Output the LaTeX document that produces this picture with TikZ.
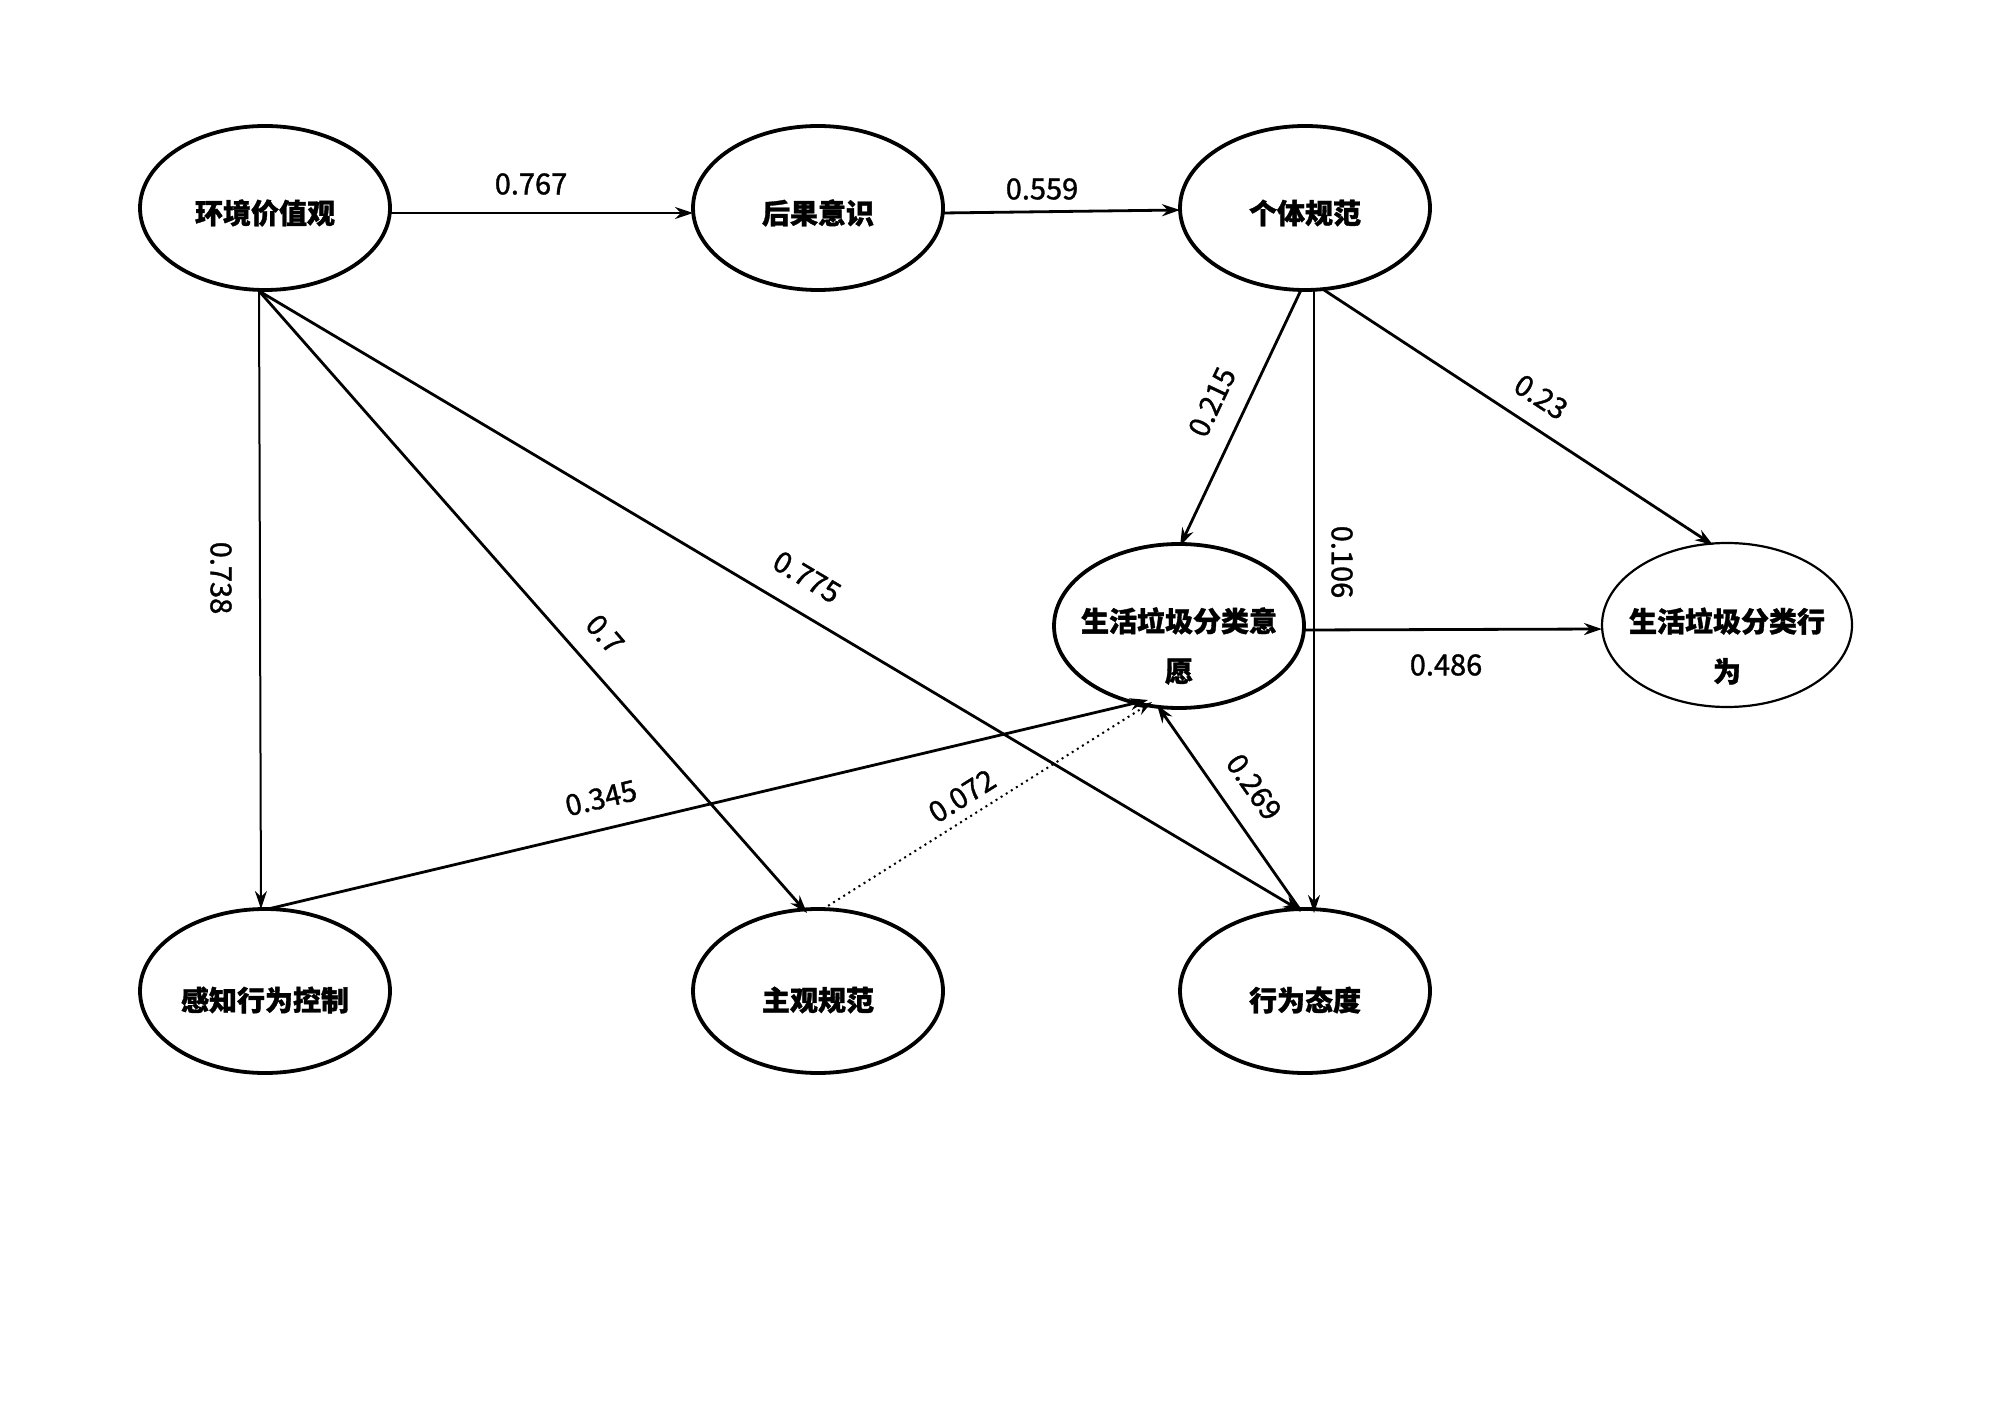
\documentclass[tikz,border=0pt]{standalone}
\usepackage{fontspec}
\setmainfont{Noto Sans CJK SC}[FakeBold=1.2]
\usetikzlibrary{arrows.meta,shapes.geometric}
\begin{document}
\begin{tikzpicture}[x=0.5pt,y=-0.5pt,
  lat/.style={draw,ellipse,line width=1.9pt,minimum width=125pt,minimum height=82pt,inner sep=0pt},
  latthin/.style={lat,line width=1.1pt},
  lbl/.style={font=\fontsize{14}{25}\selectfont,align=center,inner sep=0pt},
  num/.style={font=\fontsize{14.5}{16}\selectfont,inner sep=1pt},
  arr/.style={line width=1.4pt,-{Stealth[length=9pt,width=6pt]}},
  arrthin/.style={line width=1pt,-{Stealth[length=9pt,width=6pt]}},
  dotarr/.style={line width=1pt,dotted,-{Stealth[length=8pt,width=5pt]}}]
\useasboundingbox (0,0) rectangle (2000,1416);
\fill[white] (0,0) rectangle (2000,1416);
% ellipses
\node[lat] (A) at (265,208) {};
\node[lat] (B) at (818,208) {};
\node[lat] (C) at (1305,208) {};
\node[lat] (D) at (1179,626) {};
\node[latthin] (E) at (1727,625) {};
\node[lat] (F) at (265,991) {};
\node[lat] (G) at (818,991) {};
\node[lat] (H) at (1305,991) {};
% texts
\node[lbl] (tA) at (265,213) {\bfseries 环境价值观};
\node[lbl] (tB) at (818,213) {\bfseries 后果意识};
\node[lbl] (tC) at (1305,213) {\bfseries 个体规范};
\node[lbl] (tD) at (1179,646) {\bfseries 生活垃圾分类意\\\bfseries 愿};
\node[lbl] (tE) at (1727,646) {\bfseries 生活垃圾分类行\\\bfseries 为};
\node[lbl] (tF) at (265,1000) {\bfseries 感知行为控制};
\node[lbl] (tG) at (818,1000) {\bfseries 主观规范};
\node[lbl] (tH) at (1305,1000) {\bfseries 行为态度};
% connectors
\draw[arr] ([shift={(125,5)}]A.center) -- ([shift={(-125,5)}]B.center);
\draw[arr] ([shift={(125,5)}]B.center) -- ([shift={(-125,2)}]C.center);
\draw[arrthin] ([shift={(-6,83)}]A.center) -- ([shift={(-4,-82)}]F.center);
\draw[arr] ([shift={(-6,83)}]A.center) -- ([shift={(-11,-78)}]G.center);
\draw[arr] ([shift={(-6,83)}]A.center) -- ([shift={(-4,-80)}]H.center);
\draw[arr] ([shift={(3,-82)}]F.center) -- ([shift={(-31,74)}]D.center);
\draw[dotarr] ([shift={(5,-82)}]G.center) -- ([shift={(-27,76)}]D.center);
\draw[arr] ([shift={(-4,-80)}]H.center) -- ([shift={(-22,79)}]D.center);
\draw[arr] ([shift={(-4,82)}]C.center) -- ([shift={(1,-80)}]D.center);
\draw[arrthin] ([shift={(9,82)}]C.center) -- ([shift={(9,-78)}]H.center);
\draw[arr] ([shift={(19,82)}]C.center) -- ([shift={(-14,-80)}]E.center);
\draw[arr] ([shift={(126,4)}]D.center) -- ([shift={(-125,4)}]E.center);
% coefficients
\node[num] (n1) at (531,184) {0.767};
\node[num] (n2) at (1042,189) {0.559};
\node[num,rotate=-90] (n3) at (221,578) {0.738};
\node[num,rotate=-48.6] (n4) at (605,634) {0.7};
\node[num,rotate=-30.8] (n5) at (807,577) {0.775};
\node[num,rotate=13.4] (n6) at (601,798) {0.345};
\node[num,rotate=32.2] (n7) at (962,796) {0.072};
\node[num,rotate=-55] (n8) at (1254,787) {0.269};
\node[num,rotate=64.7] (n9) at (1212,402) {0.215};
\node[num,rotate=-90] (n10) at (1342,562) {0.106};
\node[num,rotate=-33.2] (n11) at (1541,397) {0.23};
\node[num] (n12) at (1446,665) {0.486};
\end{tikzpicture}
\end{document}
